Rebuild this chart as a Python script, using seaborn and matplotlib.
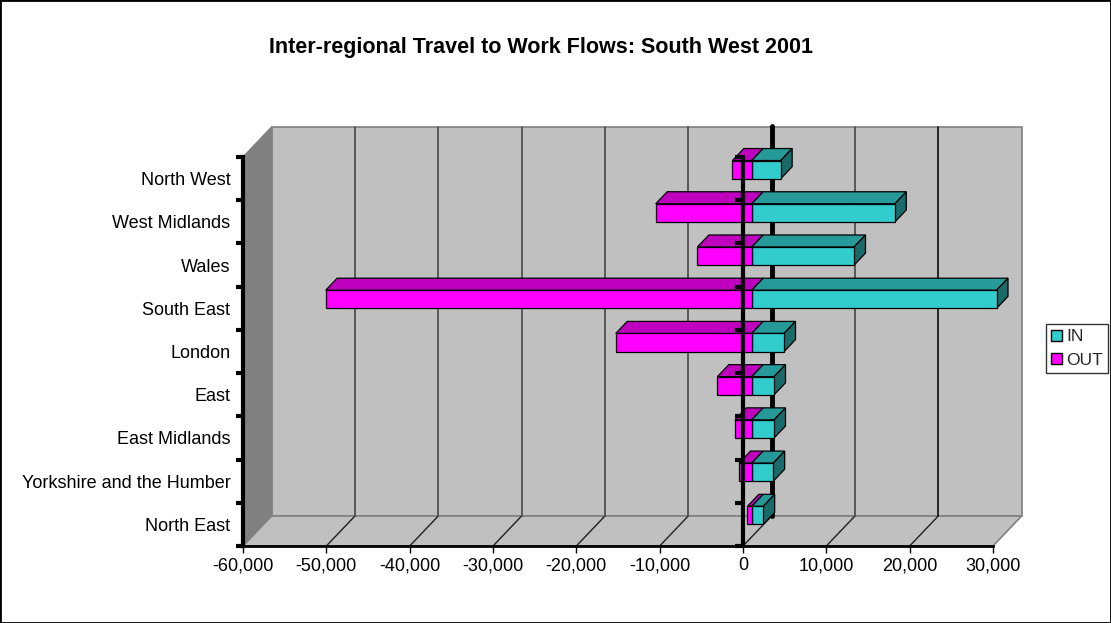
import matplotlib
matplotlib.use("Agg")
import numpy as np
import pandas as pd
import seaborn as sns
import matplotlib.pyplot as plt
from matplotlib import transforms as mtransforms
from matplotlib.patches import Polygon, Rectangle, Patch
from matplotlib.lines import Line2D
from matplotlib.ticker import FuncFormatter

# ---------------- data ----------------
regions = ["North West", "West Midlands", "Wales", "South East", "London",
           "East", "East Midlands", "Yorkshire and the Humber", "North East"]
flow_in = [3500, 17200, 12300, 29400, 3900, 2700, 2700, 2600, 1400]
flow_out = [-2300, -11500, -6500, -51100, -16300, -4100, -2000, -1500, -500]
series = ["IN", "OUT"]
x_ticks = [-60000, -50000, -40000, -30000, -20000, -10000, 0, 10000, 20000, 30000]
title = "Inter-regional Travel to Work Flows: South West 2001"

colors_front = {"IN": "#33CCCC", "OUT": "#FF00FF"}
colors_top = {"IN": "#269999", "OUT": "#BF00BF"}
colors_side = {"IN": "#1A6A6A", "OUT": "#800080"}

df = pd.DataFrame({
    "region": regions * 2,
    "direction": ["IN"] * len(regions) + ["OUT"] * len(regions),
    "flow": flow_in + flow_out,
})

# ---------------- figure ----------------
sns.set_theme(style="white")
plt.rcParams["font.family"] = ["Liberation Sans", "DejaVu Sans"]
W, H = 1111, 623
fig = plt.figure(figsize=(W / 100, H / 100), dpi=100)
fig.patch.set_facecolor("white")

ax = fig.add_axes([243 / W, (H - 546) / H, 750 / W, 389 / H])
ax.set_facecolor("none")

sns.barplot(data=df, y="region", x="flow", hue="direction", hue_order=series,
            order=regions, palette=colors_front, dodge=False, width=0.42,
            saturation=1, edgecolor="black", linewidth=0.9, orient="h",
            legend=False, ax=ax, zorder=3)
bars = [p for p in ax.patches if isinstance(p, Rectangle) and p.get_width() != 0]

ax.set_xlim(x_ticks[0], x_ticks[-1])
ax.set_ylim(len(regions) - 0.5, -0.5)
ax.set_xlabel("")
ax.set_ylabel("")

# 3-D geometry (pixels)
BACK = (28.6, 30.0)      # depth of the box
BAR_OFF = (8.6, 9.0)     # bars' front face depth
BAR_D = (11.4, 12.0)     # bars' depth
dx, dy = BACK

def px(x, y):
    return ax.transData.transform((x, y))

ident = mtransforms.IdentityTransform()
back_data = mtransforms.offset_copy(ax.transData, fig=fig, x=dx, y=dy, units="dots")

def add_poly(pts, **kw):
    p = Polygon(pts, closed=True, transform=ident, clip_on=False, **kw)
    ax.add_artist(p)
    return p

# back wall, left wall & floor (display coords derived from axes corners)
a0 = ax.transAxes.transform((0, 0))
a1 = ax.transAxes.transform((0, 1))
b0 = ax.transAxes.transform((1, 0))
b1 = ax.transAxes.transform((1, 1))
off = np.array([dx, dy])
add_poly([a0 + off, b0 + off, b1 + off, a1 + off], facecolor="#C0C0C0",
         edgecolor="#808080", linewidth=1.2, zorder=0.3)
add_poly([a0, a1, a1 + off, a0 + off], facecolor="#808080", edgecolor="#808080",
         linewidth=1, zorder=0.5)
add_poly([a0, b0, b0 + off, a0 + off], facecolor="#C0C0C0", edgecolor="#808080",
         linewidth=1.2, zorder=0.6)

# gridlines on back wall and floor
y_lo, y_hi = len(regions) - 0.5, -0.5
for t in x_ticks[1:-1]:
    if t == 0:
        continue
    ax.plot([t, t], [y_lo, y_hi], transform=back_data,
            color="#1a1a1a" if t == 20000 else "#505050", linewidth=1.3,
            clip_on=False, zorder=1)
for t in x_ticks[1:-1]:
    p = px(t, y_lo)
    ax.add_artist(Line2D([p[0], p[0] + dx], [p[1], p[1] + dy], transform=ident,
                         color="#202020", linewidth=1.0, zorder=0.7, clip_on=False))
# thick zero line on back wall
ax.plot([0, 0], [y_lo, y_hi - 0.03], transform=back_data,
        color="black", linewidth=3.5, clip_on=False, zorder=1.2)

# ---------------- 3-D bars ----------------
bar_tr = mtransforms.offset_copy(ax.transData, fig=fig, x=BAR_OFF[0], y=BAR_OFF[1], units="dots")
ox, oy = BAR_OFF
ddx, ddy = BAR_D
for r in bars:
    r.set_transform(bar_tr)
    r.set_zorder(3)
    r.set_clip_on(False)
    x0, w = r.get_x(), r.get_width()
    xl, xr = min(x0, x0 + w), max(x0, x0 + w)
    yt = min(r.get_y(), r.get_y() + r.get_height())
    yb = max(r.get_y(), r.get_y() + r.get_height())
    is_in = w > 0
    key = "IN" if is_in else "OUT"
    tl = px(xl, yt) + np.array([ox, oy])
    tr = px(xr, yt) + np.array([ox, oy])
    br = px(xr, yb) + np.array([ox, oy])
    add_poly([tl, tr, tr + [ddx, ddy], tl + [ddx, ddy]], facecolor=colors_top[key],
             edgecolor="black", linewidth=0.9, zorder=2.5)
    if is_in:
        add_poly([tr, br, br + [ddx, ddy], tr + [ddx, ddy]], facecolor=colors_side[key],
                 edgecolor="black", linewidth=0.9, zorder=2.6)

# front zero line with left-pointing ticks
bounds = np.arange(-0.5, len(regions) + 0.5, 1.0)
ax.plot([0, 0], [y_lo, y_hi - 0.05], color="black", linewidth=3, zorder=4,
        clip_on=False, solid_capstyle="butt")
ax.plot(np.zeros_like(bounds), bounds, linestyle="none", marker=0, markersize=6,
        markeredgewidth=3, color="black", zorder=4, clip_on=False)

# ---------------- axes styling ----------------
for s in ["top", "right"]:
    ax.spines[s].set_visible(False)
ax.spines["left"].set_color("black")
ax.spines["left"].set_linewidth(3)
ax.spines["left"].set_zorder(5)
ax.spines["bottom"].set_color("black")
ax.spines["bottom"].set_linewidth(2)
ax.spines["bottom"].set_zorder(5)

ax.set_xticks(x_ticks)
ax.xaxis.set_major_formatter(FuncFormatter(lambda v, p: f"{int(v):,}"))
ax.tick_params(axis="x", which="major", direction="out", length=5, width=1,
               color="black", labelsize=13, pad=3, bottom=True)
ax.set_yticks(range(len(regions)))
ax.set_yticklabels(regions)
ax.set_yticks(bounds, minor=True)
ax.tick_params(axis="y", which="major", length=0, labelsize=13, pad=9, left=True)
ax.tick_params(axis="y", which="minor", direction="out", length=5, width=3,
               color="black", left=True)
for lab in ax.get_xticklabels() + ax.get_yticklabels():
    lab.set_color("black")

# ---------------- title, legend, border ----------------
fig.text(541 / W, 1 - 47 / H, title, ha="center", va="center", fontsize=15.5,
         fontweight="bold", color="black")

handles = [Patch(facecolor=colors_front[s], edgecolor="black", linewidth=1, label=s)
           for s in series]
leg = fig.legend(handles=handles, loc="upper left", bbox_to_anchor=(1046 / W, 1 - 324 / H),
                 frameon=True, fancybox=False, edgecolor="black", fontsize=12.5,
                 handlelength=0.6, handleheight=0.6, handletextpad=0.25,
                 borderpad=0.3, labelspacing=0.5, borderaxespad=0)
leg.get_frame().set_linewidth(1)

fig.add_artist(Rectangle((0, 0), 1, 1, transform=fig.transFigure, fill=False,
                         edgecolor="black", linewidth=2, zorder=10))

fig.savefig("out.png", dpi=100)
